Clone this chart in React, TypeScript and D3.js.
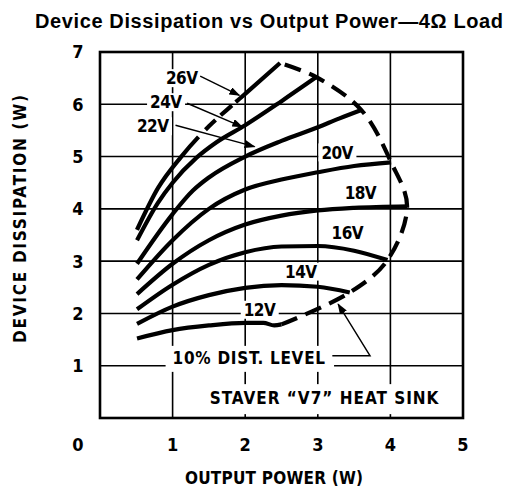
import React from "react";
import * as d3 from "d3";

// output power (W) vs device dissipation (W)
const curve12V: [number, number][] = [[0.51, 1.52], [1, 1.68], [1.5, 1.77], [2, 1.82], [2.25, 1.82], [2.4, 1.77], [2.5, 1.79]];
const curve14V: [number, number][] = [[0.51, 1.8], [1, 2.13], [1.5, 2.35], [2, 2.49], [2.5, 2.54], [3, 2.51], [3.44, 2.4]];
const curve16V: [number, number][] = [[0.51, 2.08], [1, 2.55], [1.5, 2.93], [2, 3.17], [2.5, 3.28], [3, 3.29], [3.5, 3.2], [3.96, 3.02]];
const curve18V: [number, number][] = [[0.51, 2.37], [1, 2.95], [1.5, 3.4], [2, 3.7], [2.5, 3.87], [3, 3.97], [3.5, 4.02], [4.23, 4.05]];
const curve20V: [number, number][] = [[0.51, 2.65], [1, 3.4], [1.5, 4.0], [2, 4.37], [2.5, 4.56], [3, 4.7], [3.5, 4.82], [4.01, 4.89]];
const curve22V: [number, number][] = [[0.51, 2.95], [1, 3.9], [1.28, 4.35], [1.5, 4.6], [2, 5.0], [2.5, 5.3], [3, 5.56], [3.3, 5.73], [3.6, 5.89]];
const curve24V: [number, number][] = [[0.51, 3.4], [0.8, 4.12], [1, 4.5], [1.33, 4.98], [1.6, 5.27], [2, 5.6], [2.5, 6.06], [2.98, 6.52]];
const curve26V: [number, number][] = [[0.51, 3.6], [0.8, 4.4], [1.12, 5.0], [1.5, 5.58], [1.81, 5.97], [2, 6.2], [2.48, 6.79]];

// 10% distortion boundary (dashed), joins the curve ends
const distortionLevel: [number, number][] = [[2.5, 1.79], [3.44, 2.4], [3.96, 3.02], [4.23, 4.05], [4.01, 4.89], [3.6, 5.89], [2.98, 6.52], [2.48, 6.79]];

const xTicks = [1, 2, 3, 4, 5];
const yTicks = [1, 2, 3, 4, 5, 6, 7];

const curves = [curve12V, curve14V, curve16V, curve18V, curve20V, curve22V, curve24V];

// curve labels placed in data units; arrow = [from, to] when the label points at its curve
const curveLabels: { text: string; at: [number, number]; arrow?: [number, number][] }[] = [
  { text: "26V", at: [1.13, 6.5], arrow: [[1.38, 6.54], [1.92, 6.17]] },
  { text: "24V", at: [0.91, 6.04], arrow: [[1.2, 6.02], [1.96, 5.57]] },
  { text: "22V", at: [0.73, 5.58], arrow: [[1.04, 5.6], [2.13, 5.19]] },
  { text: "20V", at: [3.27, 5.08] },
  { text: "18V", at: [3.59, 4.31] },
  { text: "16V", at: [3.41, 3.55] },
  { text: "14V", at: [2.77, 2.8] },
  { text: "12V", at: [2.2, 2.07] },
];

const W = 508;
const H = 491;
const condensed = "'Liberation Sans Narrow', 'DejaVu Sans Condensed', 'Roboto Condensed', sans-serif";

export default function App() {
  const x = d3.scaleLinear().domain([0, 5]).range([100, 463]);
  const y = d3.scaleLinear().domain([0, 7]).range([418, 52]);

  const line = d3
    .line<[number, number]>()
    .x((d) => x(d[0]))
    .y((d) => y(d[1]))
    .curve(d3.curveMonotoneX);

  const dashLine = d3
    .line<[number, number]>()
    .x((d) => x(d[0]))
    .y((d) => y(d[1]))
    .curve(d3.curveCatmullRom.alpha(0.5));

  const arrowPath = d3
    .line<[number, number]>()
    .x((d) => x(d[0]))
    .y((d) => y(d[1]));

  const distNote = { text: "10% DIST. LEVEL", x0: 1.0, x1: 3.1, y: 1.15 };
  const distLeader: [number, number][] = [[3.2, 1.19], [3.72, 1.19], [3.28, 2.18]];
  const sinkNote = { text: "STAVER \u201CV7\u201D HEAT SINK", x0: 1.51, x1: 4.8, y: 0.38 };

  return (
    <svg width={W} height={H} style={{ display: "block", position: "absolute", left: 0, top: 0, background: "#fff" }}>
      <defs>
        <marker id="ah" markerWidth={11} markerHeight={8} refX={10} refY={4} orient="auto" markerUnits="userSpaceOnUse">
          <path d="M0,0 L11,4 L0,8 Z" fill="#000" />
        </marker>
      </defs>

      <text
        x={269}
        y={28}
        textAnchor="middle"
        fontFamily="'Liberation Sans', Arial, sans-serif"
        fontWeight="bold"
        fontSize={20}
        textLength={468}
        lengthAdjust="spacing"
      >
        Device Dissipation vs Output Power—4Ω Load
      </text>

      {/* grid */}
      <g stroke="#000" strokeWidth={1.6}>
        {xTicks.slice(0, -1).map((t) => (
          <line key={"gx" + t} x1={x(t)} x2={x(t)} y1={y(7)} y2={y(0)} />
        ))}
        {yTicks.slice(0, -1).map((t) => (
          <line key={"gy" + t} x1={x(0)} x2={x(5)} y1={y(t)} y2={y(t)} />
        ))}
      </g>

      {/* white plates behind the text that break the grid */}
      <g fill="#fff">
        {curveLabels.map((l) => (
          <rect key={"bg" + l.text} x={x(l.at[0]) - 19} y={y(l.at[1]) - 9} width={38} height={18} />
        ))}
        <rect x={x(distNote.x0) - 7} y={y(distNote.y) - 12} width={x(distNote.x1) - x(distNote.x0) + 16} height={26} />
        <rect x={x(sinkNote.x0) - 8} y={y(sinkNote.y) - 14} width={x(sinkNote.x1) - x(sinkNote.x0) + 4} height={30} />
      </g>

      {/* voltage curves */}
      <g fill="none" stroke="#000" strokeWidth={4.2} strokeLinecap="butt" strokeLinejoin="round">
        {curves.map((c, i) => (
          <path key={"c" + i} d={line(c) || ""} />
        ))}
        {/* 26V is broken up along its middle stretch in the original */}
        <path d={line(curve26V) || ""} strokeDasharray="112 10 14 7 15 5 400" />
        <path d={dashLine(distortionLevel) || ""} strokeDasharray="17 9" />
      </g>

      {/* arrows */}
      <g fill="none" stroke="#000" strokeWidth={1.4}>
        {curveLabels
          .filter((l) => l.arrow)
          .map((l) => (
            <path key={"a" + l.text} d={arrowPath(l.arrow!) || ""} markerEnd="url(#ah)" />
          ))}
        <path d={arrowPath(distLeader) || ""} markerEnd="url(#ah)" />
      </g>

      {/* labels */}
      <g fontFamily={condensed} fontWeight="bold" fontSize={17}>
        {curveLabels.map((l) => (
          <text key={"t" + l.text} x={x(l.at[0])} y={y(l.at[1])} dy="0.36em" textAnchor="middle" textLength={32} lengthAdjust="spacing">
            {l.text}
          </text>
        ))}
        <text x={x(distNote.x0)} y={y(distNote.y)} dy="0.36em" textLength={x(distNote.x1) - x(distNote.x0)} lengthAdjust="spacing">
          {distNote.text}
        </text>
        <text x={x(sinkNote.x0)} y={y(sinkNote.y)} dy="0.36em" textLength={x(sinkNote.x1) - x(sinkNote.x0) - 10} lengthAdjust="spacing">
          {sinkNote.text}
        </text>
      </g>

      {/* frame */}
      <rect x={x(0)} y={y(7)} width={x(5) - x(0)} height={y(0) - y(7)} fill="none" stroke="#000" strokeWidth={2.6} />

      {/* tick labels */}
      <g fontFamily={condensed} fontWeight="bold" fontSize={18} textAnchor="middle">
        {yTicks.map((t) => (
          <text key={"yt" + t} x={78} y={y(t)} dy="0.36em">
            {t}
          </text>
        ))}
        <text x={78} y={445} dy="0.36em">0</text>
        {xTicks.map((t) => (
          <text key={"xt" + t} x={x(t)} y={445} dy="0.36em">
            {t}
          </text>
        ))}
      </g>

      {/* axis titles */}
      <text x={274} y={478} dy="0.36em" textAnchor="middle" fontFamily={condensed} fontWeight="bold" fontSize={17} textLength={178} lengthAdjust="spacing">
        OUTPUT POWER (W)
      </text>
      <text
        transform={`translate(20,219) rotate(-90)`}
        dy="0.36em"
        textAnchor="middle"
        fontFamily={condensed}
        fontWeight="bold"
        fontSize={17}
        textLength={248}
        lengthAdjust="spacing"
      >
        DEVICE DISSIPATION (W)
      </text>
    </svg>
  );
}
